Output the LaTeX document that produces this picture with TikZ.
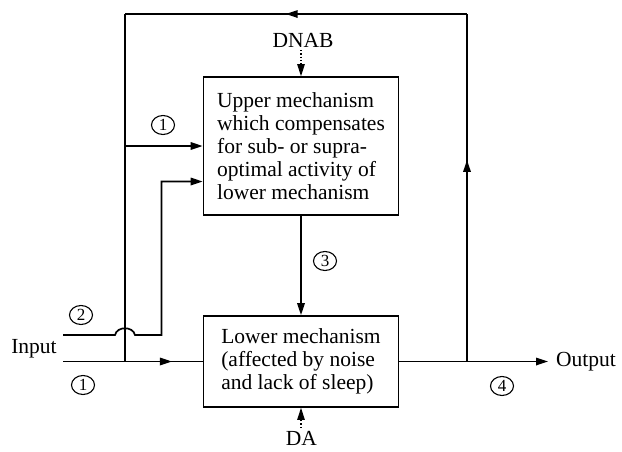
\documentclass[tikz,border=0pt]{standalone}
\usepackage{fontspec}
\setmainfont{Liberation Serif}
\usetikzlibrary{arrows.meta,shapes.geometric,decorations.markings}
\newcommand{\boxfont}{\fontsize{21.5}{23}\selectfont}

\begin{document}
\begin{tikzpicture}[x=1pt,y=-1pt,line width=1.7pt,
  every node/.style={font=\boxfont},
  mech/.style={draw,rectangle,align=left,minimum width=195pt,inner sep=0pt},
  lbl/.style={anchor=base,inner sep=2pt},
  num/.style={draw,ellipse,line width=1.1pt,minimum width=23pt,minimum height=19pt,
    inner sep=0pt,font=\fontsize{17}{17}\selectfont},
  tip/.style={-{Triangle[length=12pt,width=7.5pt]}},
  dots/.style={tip,dotted,line width=1.3pt},
  midtip/.style={postaction={decorate},decoration={markings,
    mark=at position #1 with {\arrow{Triangle[length=12pt,width=7.5pt]}}}}]
  \useasboundingbox (0,0) rectangle (622,451);
  % blocs
  \node[mech,minimum height=138pt] (upper) at (301,146) {Upper mechanism\\which compensates\\for sub- or supra-\\optimal activity of\\lower mechanism};
  \node[mech,minimum height=91pt] (lower) at (301,361.5) {Lower mechanism\\(affected by noise\\and lack of sleep)};
  % etiquettes
  \node[lbl] (dnab) at (303,47) {DNAB};
  \node[lbl] (da) at (301.5,445) {DA};
  \node[lbl] (input) at (34,353) {Input};
  \node[lbl] (output) at (586,366) {Output};
  \node[num] (c1a) at (163,125) {1};
  \node[num] (c2) at (81,315) {2};
  \node[num] (c1b) at (83,385) {1};
  \node[num] (c3) at (325,261) {3};
  \node[num] (c4) at (502,386) {4};
  % points de la boucle
  \coordinate (in1) at (63,361.5);
  \coordinate (in2) at (63,335);
  \coordinate (jL) at (125,361.5);
  \coordinate (b1) at (125,146);
  \coordinate (k2) at (161.5,181.5);
  \coordinate (tL) at (125,14);
  \coordinate (tR) at (467,14);
  \coordinate (jR) at (467,361.5);
  \coordinate (oE) at (548,361.5);
  % entrees
  \draw[midtip=0.78] (in1) -- (lower.west);
  \draw[tip] (b1) -- (upper.west);
  \draw[tip] (in2) -- (115,335) .. controls (117,326) and (133,326) .. (135,335)
    -- (k2 |- in2) -- (k2) -- (upper.west |- k2);
  % retour
  \draw[midtip=0.58] (jR) -- (tR);
  \draw[midtip=0.53] (tR) -- (tL);
  \draw (tL) -- (jL);
  % sortie et liaisons
  \draw[tip] (lower.east) -- (oE);
  \draw[tip] (upper.south) -- (lower.north);
  \draw[dots] (dnab.south -| upper.north) -- (upper.north);
  \draw[dots] (da.north -| lower.south) -- (lower.south);
\end{tikzpicture}
\end{document}
